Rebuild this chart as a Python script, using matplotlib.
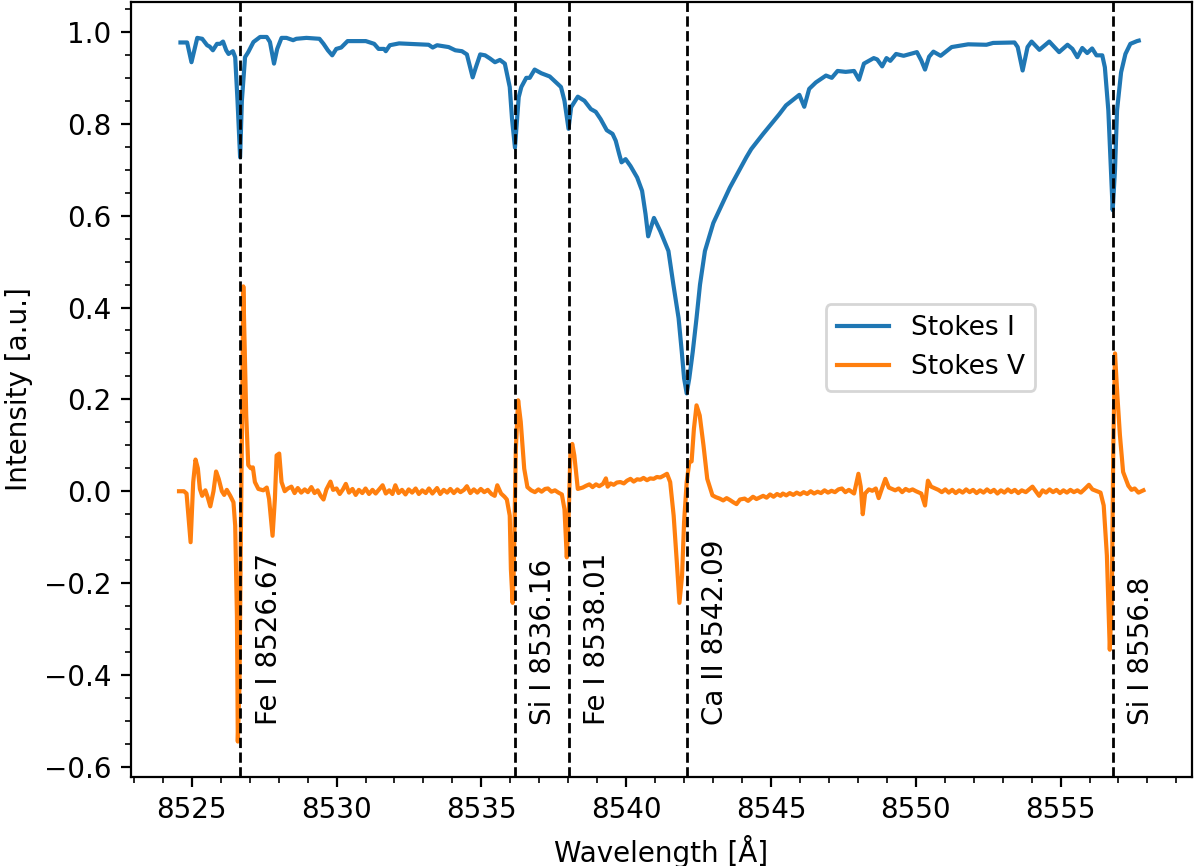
import matplotlib
matplotlib.use("Agg")
import numpy as np
import matplotlib.pyplot as plt

# Stokes I profile
wave_i = [
    8524.61, 8524.84, 8524.99, 8525.19, 8525.36, 8525.53, 8525.62, 8525.73, 8525.87, 8525.98,
    8526.08, 8526.19, 8526.27, 8526.42, 8526.50, 8526.58, 8526.67, 8526.73, 8526.84, 8526.95,
    8527.13, 8527.36, 8527.59, 8527.70, 8527.84, 8527.95, 8528.10, 8528.27, 8528.50, 8528.61,
    8528.96, 8529.41, 8529.55, 8529.70, 8529.85, 8529.99, 8530.16, 8530.38, 8531.01, 8531.30,
    8531.45, 8531.64, 8531.70, 8531.84, 8532.16, 8532.50, 8532.84, 8533.18, 8533.32, 8533.47,
    8533.87, 8534.10, 8534.33, 8534.50, 8534.61, 8534.70, 8534.81, 8534.96, 8535.13, 8535.30,
    8535.47, 8535.64, 8535.81, 8535.98, 8536.06, 8536.16, 8536.29, 8536.38, 8536.55, 8536.67,
    8536.84, 8537.07, 8537.36, 8537.58, 8537.75, 8537.87, 8538.01, 8538.10, 8538.33, 8538.56,
    8538.78, 8538.95, 8539.12, 8539.33, 8539.53, 8539.64, 8539.76, 8539.84, 8539.98, 8540.15,
    8540.38, 8540.55, 8540.67, 8540.76, 8540.96, 8541.18, 8541.46, 8541.63, 8541.81, 8541.92,
    8542.00, 8542.09, 8542.18, 8542.30, 8542.43, 8542.55, 8542.72, 8543.01, 8543.58, 8544.15,
    8544.32, 8544.73, 8545.29, 8545.52, 8545.98, 8546.15, 8546.32, 8546.55, 8546.90, 8547.10,
    8547.30, 8547.58, 8547.87, 8548.04, 8548.21, 8548.55, 8548.67, 8548.84, 8548.99, 8549.12,
    8549.32, 8549.58, 8549.81, 8550.04, 8550.19, 8550.32, 8550.46, 8550.61, 8550.86, 8551.24,
    8551.81, 8552.44, 8552.67, 8553.41, 8553.52, 8553.69, 8553.86, 8554.00, 8554.27, 8554.61,
    8554.95, 8555.24, 8555.41, 8555.58, 8555.75, 8555.92, 8556.09, 8556.24, 8556.44, 8556.53,
    8556.65, 8556.80, 8556.88, 8556.95, 8557.09, 8557.24, 8557.41, 8557.64, 8557.70,
]
stokes_i = [
    0.977, 0.977, 0.934, 0.987, 0.985, 0.971, 0.968, 0.960, 0.974, 0.974,
    0.979, 0.960, 0.952, 0.958, 0.945, 0.850, 0.727, 0.850, 0.945, 0.956,
    0.978, 0.989, 0.989, 0.978, 0.931, 0.963, 0.987, 0.987, 0.982, 0.985,
    0.987, 0.985, 0.974, 0.960, 0.949, 0.963, 0.966, 0.980, 0.980, 0.974,
    0.963, 0.963, 0.958, 0.971, 0.975, 0.974, 0.973, 0.972, 0.966, 0.971,
    0.967, 0.960, 0.958, 0.951, 0.923, 0.901, 0.923, 0.951, 0.949, 0.942,
    0.934, 0.939, 0.931, 0.880, 0.810, 0.748, 0.858, 0.880, 0.900, 0.900,
    0.918, 0.910, 0.903, 0.890, 0.880, 0.850, 0.789, 0.836, 0.859, 0.850,
    0.832, 0.826, 0.810, 0.786, 0.778, 0.763, 0.734, 0.716, 0.723, 0.708,
    0.683, 0.654, 0.603, 0.555, 0.595, 0.566, 0.523, 0.450, 0.377, 0.304,
    0.246, 0.213, 0.246, 0.304, 0.377, 0.450, 0.523, 0.584, 0.661, 0.727,
    0.745, 0.778, 0.821, 0.840, 0.863, 0.837, 0.876, 0.890, 0.905, 0.900,
    0.915, 0.913, 0.915, 0.896, 0.931, 0.943, 0.940, 0.925, 0.943, 0.937,
    0.952, 0.948, 0.952, 0.956, 0.938, 0.918, 0.946, 0.957, 0.948, 0.967,
    0.973, 0.972, 0.976, 0.977, 0.967, 0.916, 0.967, 0.979, 0.961, 0.979,
    0.956, 0.972, 0.963, 0.945, 0.965, 0.954, 0.964, 0.949, 0.949, 0.923,
    0.829, 0.612, 0.700, 0.829, 0.912, 0.952, 0.974, 0.980, 0.981,
]

# Stokes V profile
wave_v = [
    8524.56, 8524.73, 8524.82, 8524.96, 8525.05, 8525.13, 8525.21, 8525.28, 8525.36, 8525.47,
    8525.55, 8525.64, 8525.75, 8525.84, 8525.93, 8526.04, 8526.12, 8526.21, 8526.33, 8526.44,
    8526.50, 8526.56, 8526.59, 8526.65, 8526.69, 8526.74, 8526.78, 8526.88, 8526.95, 8527.04,
    8527.11, 8527.18, 8527.30, 8527.47, 8527.59, 8527.67, 8527.79, 8527.87, 8527.93, 8528.02,
    8528.10, 8528.21, 8528.32, 8528.44, 8528.55, 8528.66, 8528.78, 8528.90, 8529.01, 8529.13,
    8529.24, 8529.35, 8529.45, 8529.55, 8529.65, 8529.79, 8529.88, 8530.00, 8530.11, 8530.22,
    8530.32, 8530.43, 8530.55, 8530.66, 8530.77, 8530.89, 8531.00, 8531.12, 8531.24, 8531.35,
    8531.47, 8531.59, 8531.70, 8531.82, 8531.93, 8532.03, 8532.14, 8532.26, 8532.38, 8532.49,
    8532.61, 8532.73, 8532.84, 8532.96, 8533.08, 8533.19, 8533.31, 8533.47, 8533.58, 8533.70,
    8533.82, 8533.93, 8534.05, 8534.17, 8534.28, 8534.40, 8534.50, 8534.62, 8534.74, 8534.86,
    8534.98, 8535.10, 8535.22, 8535.35, 8535.46, 8535.55, 8535.68, 8535.80, 8535.88, 8535.98,
    8536.02, 8536.08, 8536.12, 8536.19, 8536.27, 8536.36, 8536.48, 8536.59, 8536.72, 8536.85,
    8536.97, 8537.08, 8537.20, 8537.30, 8537.42, 8537.54, 8537.66, 8537.78, 8537.87, 8537.95,
    8538.01, 8538.08, 8538.14, 8538.21, 8538.33, 8538.50, 8538.62, 8538.73, 8538.84, 8538.96,
    8539.07, 8539.20, 8539.30, 8539.36, 8539.46, 8539.57, 8539.68, 8539.80, 8539.92, 8540.03,
    8540.15, 8540.26, 8540.38, 8540.49, 8540.60, 8540.72, 8540.83, 8540.95, 8541.06, 8541.18,
    8541.30, 8541.41, 8541.52, 8541.64, 8541.75, 8541.84, 8541.93, 8542.00, 8542.09, 8542.18,
    8542.26, 8542.34, 8542.43, 8542.54, 8542.67, 8542.80, 8542.98, 8543.10, 8543.23, 8543.35,
    8543.47, 8543.58, 8543.70, 8543.81, 8543.93, 8544.09, 8544.21, 8544.38, 8544.50, 8544.73,
    8544.85, 8544.97, 8545.09, 8545.21, 8545.33, 8545.41, 8545.53, 8545.65, 8545.77, 8545.89,
    8546.01, 8546.13, 8546.25, 8546.37, 8546.49, 8546.61, 8546.73, 8546.85, 8546.97, 8547.09,
    8547.21, 8547.33, 8547.45, 8547.57, 8547.69, 8547.87, 8548.02, 8548.10, 8548.17, 8548.25,
    8548.38, 8548.50, 8548.62, 8548.72, 8548.80, 8548.95, 8549.07, 8549.29, 8549.41, 8549.53,
    8549.65, 8549.77, 8549.89, 8550.01, 8550.19, 8550.32, 8550.42, 8550.53, 8550.78, 8550.90,
    8551.02, 8551.14, 8551.26, 8551.38, 8551.50, 8551.62, 8551.74, 8551.86, 8551.98, 8552.10,
    8552.22, 8552.34, 8552.46, 8552.58, 8552.70, 8552.82, 8552.94, 8553.06, 8553.18, 8553.30,
    8553.42, 8553.54, 8553.66, 8553.80, 8554.03, 8554.26, 8554.38, 8554.50, 8554.62, 8554.74,
    8554.86, 8554.98, 8555.10, 8555.22, 8555.34, 8555.46, 8555.58, 8555.70, 8555.82, 8555.98,
    8556.10, 8556.26, 8556.38, 8556.49, 8556.60, 8556.70, 8556.77, 8556.82, 8556.88, 8556.96,
    8557.05, 8557.16, 8557.34, 8557.45, 8557.56, 8557.69, 8557.86,
]
stokes_v = [
    0.000, 0.000, -0.005, -0.111, 0.020, 0.069, 0.050, 0.005, -0.010, 0.002,
    -0.013, -0.033, 0.000, 0.043, 0.027, 0.000, -0.008, 0.003, -0.010, -0.024,
    -0.075, -0.272, -0.545, -0.418, -0.126, 0.166, 0.446, 0.166, 0.057, 0.050,
    0.052, 0.020, 0.005, 0.002, 0.008, -0.017, -0.097, -0.017, 0.078, 0.082,
    0.020, 0.000, 0.006, 0.010, -0.004, 0.007, -0.003, 0.004, -0.002, 0.009,
    -0.004, 0.002, -0.010, -0.018, 0.004, 0.021, 0.003, 0.006, -0.006, 0.004,
    0.016, -0.003, 0.005, -0.008, 0.003, -0.004, 0.006, -0.006, 0.003, -0.005,
    0.004, 0.013, -0.005, 0.002, -0.006, 0.013, -0.004, 0.003, -0.007, 0.004,
    -0.003, 0.006, -0.006, 0.002, -0.004, 0.006, -0.005, 0.007, -0.006, 0.003,
    -0.003, 0.005, -0.004, 0.004, -0.002, 0.003, 0.011, -0.004, 0.004, -0.003,
    0.005, -0.002, 0.003, -0.006, -0.010, 0.013, -0.005, -0.012, -0.018, -0.053,
    -0.170, -0.243, -0.170, 0.092, 0.198, 0.151, 0.049, 0.009, 0.002, -0.002,
    0.004, -0.001, 0.005, 0.006, -0.001, 0.002, -0.003, -0.007, -0.039, -0.144,
    -0.060, 0.092, 0.103, 0.078, 0.005, 0.008, 0.012, 0.015, 0.009, 0.015,
    0.011, 0.016, 0.028, 0.010, 0.017, 0.014, 0.019, 0.020, 0.017, 0.023,
    0.027, 0.021, 0.026, 0.025, 0.029, 0.024, 0.028, 0.027, 0.031, 0.030,
    0.034, 0.038, 0.020, -0.053, -0.155, -0.243, -0.184, -0.067, 0.020, 0.063,
    0.065, 0.136, 0.187, 0.165, 0.100, 0.027, -0.009, -0.013, -0.016, -0.020,
    -0.015, -0.019, -0.024, -0.028, -0.018, -0.016, -0.021, -0.012, -0.017, -0.010,
    -0.014, -0.007, -0.012, -0.006, -0.010, -0.005, -0.009, -0.004, -0.008, -0.003,
    -0.007, -0.002, -0.006, 0.000, -0.005, -0.001, -0.004, 0.002, -0.003, 0.001,
    -0.002, 0.004, 0.006, -0.002, 0.003, -0.005, 0.038, 0.010, -0.050, -0.005,
    0.004, 0.001, 0.006, -0.015, 0.000, 0.027, 0.008, 0.002, 0.006, -0.002,
    0.005, 0.001, 0.004, 0.000, -0.005, -0.031, 0.023, 0.010, 0.003, -0.002,
    0.004, -0.003, 0.003, -0.004, 0.002, -0.003, 0.004, -0.002, 0.003, -0.004,
    0.002, -0.003, 0.004, -0.002, 0.003, -0.005, 0.002, -0.003, 0.004, -0.002,
    0.003, -0.004, 0.002, -0.002, 0.010, -0.010, 0.002, -0.003, 0.004, -0.002,
    0.003, -0.004, 0.002, -0.003, 0.003, -0.002, 0.002, -0.003, 0.004, 0.014,
    0.004, 0.000, -0.003, -0.031, -0.140, -0.345, -0.235, 0.090, 0.300, 0.210,
    0.122, 0.042, 0.012, 0.003, 0.006, -0.003, 0.002,
]

line_wave = [8526.67, 8536.16, 8538.01, 8542.09, 8556.8]
line_labels = ["Fe I 8526.67", "Si I 8536.16", "Fe I 8538.01", "Ca II 8542.09", "Si I 8556.8"]

fig = plt.figure(figsize=(6.0, 4.33), dpi=200)
ax = fig.add_subplot(111)
fig.subplots_adjust(left=0.109, right=0.993, bottom=0.103, top=0.998)

ax.plot(wave_i, stokes_i, label="Stokes I")
ax.plot(wave_v, stokes_v, label="Stokes V")

for w, lab in zip(line_wave, line_labels):
    ax.axvline(w, color="k", linestyle="--", linewidth=1)
    ax.text(w + 0.5, -0.51, lab, rotation=90, ha="left", va="bottom", fontsize=10)

ax.minorticks_on()
ax.set_xlabel("Wavelength [Å]")
ax.set_ylabel("Intensity [a.u.]")
ax.legend(loc="center", bbox_to_anchor=(0.754, 0.554), fontsize=9.5)

fig.savefig("out.png", dpi=200)
